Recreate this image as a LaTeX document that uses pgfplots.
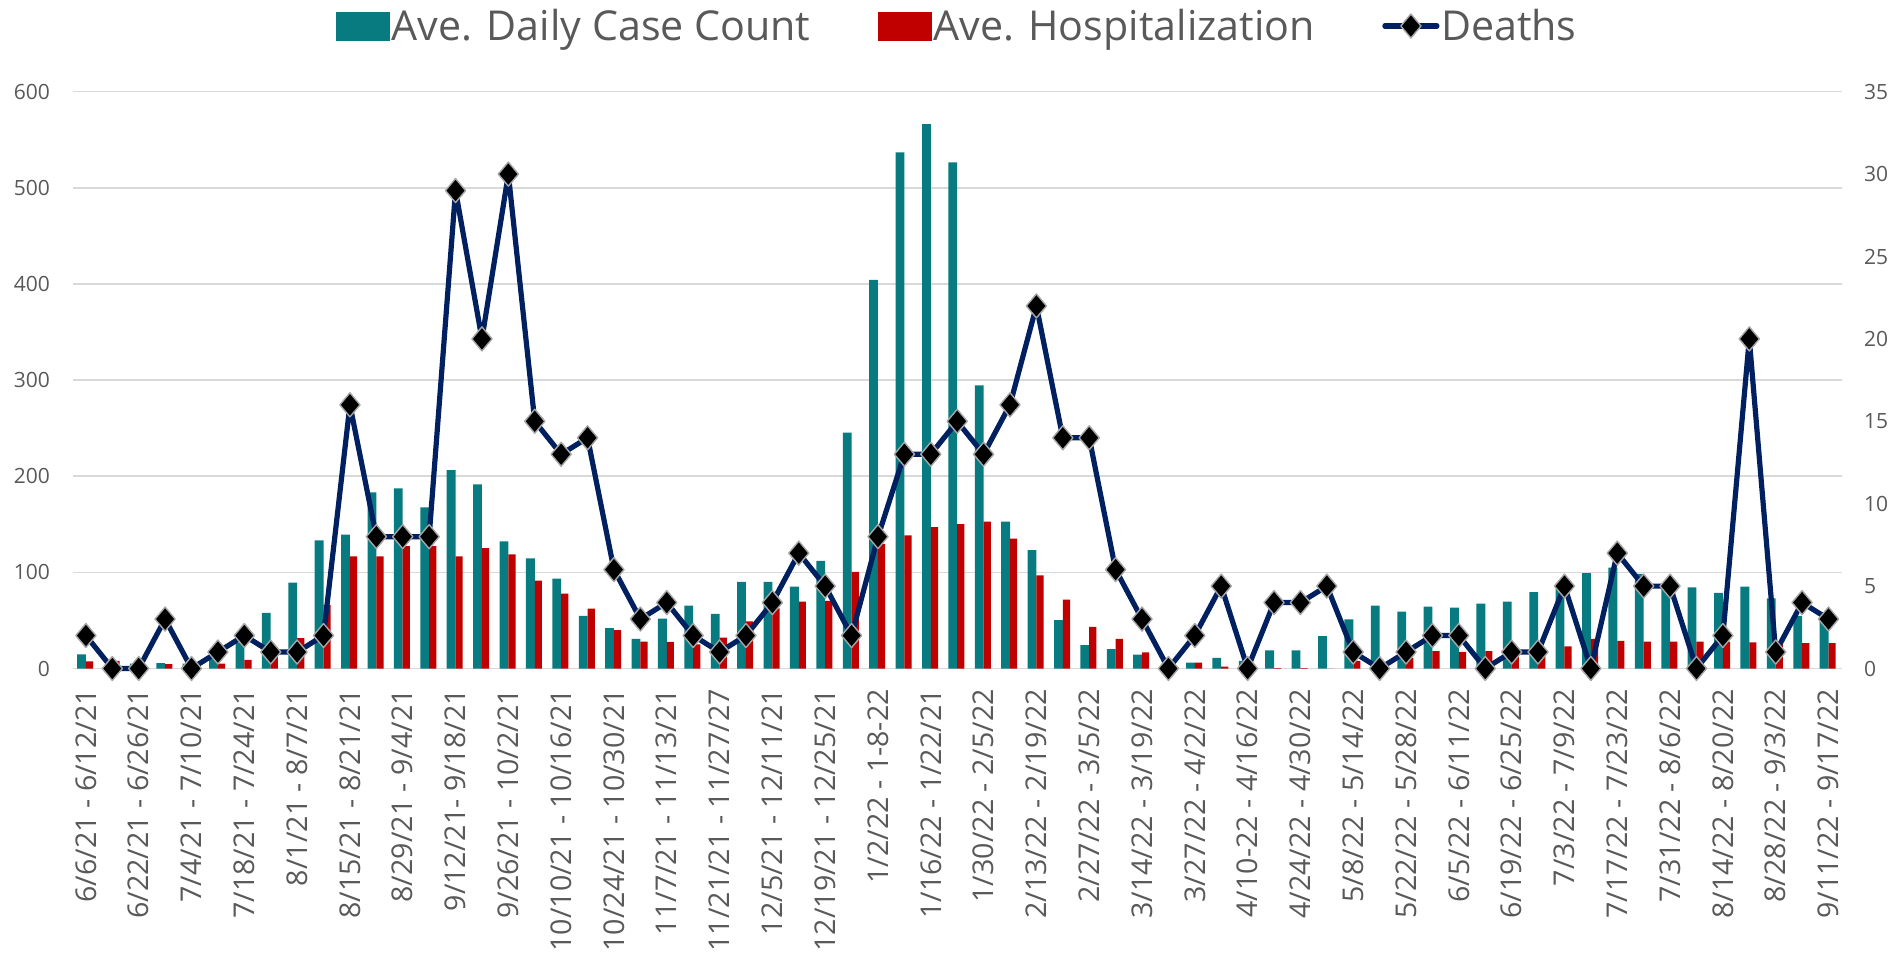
\documentclass[border=0pt]{standalone}
\usepackage{pgfplots}
\pgfplotsset{compat=1.18}
\usepackage{pgfplotstable}
\usepackage{fontspec}
\setmainfont{Open Sans}
\definecolor{caseteal}{RGB}{8,123,128}
\definecolor{hospred}{RGB}{192,0,0}
\definecolor{navyline}{RGB}{0,32,96}
\definecolor{gridgray}{RGB}{217,217,217}
\definecolor{txtgray}{RGB}{89,89,89}
\definecolor{markgray}{RGB}{166,166,166}

\pgfplotstableread{
idx case hosp deaths
0 14.6 7.4 2
1 2 8.0 0
2 5.2 1 0
3 5.5 4.5 3
4 5 2 0
5 11 5 1
6 27 9 2
7 58 22 1
8 89.4 31.7 1
9 133.4 66.3 2
10 139.2 116.6 16
11 183.3 116.6 8
12 187.4 127.3 8
13 167.6 127.3 8
14 206.3 116.6 29
15 191.5 125.2 20
16 132.2 118.6 30
17 114.5 91.4 15
18 93.5 77.8 13
19 54.8 62.2 14
20 42 40 6
21 30.9 28 3
22 51.9 27.6 4
23 65.5 25 2
24 56.8 32.1 1
25 90.2 49 2
26 90.2 62.6 4
27 85.3 69.6 7
28 112 70.4 5
29 245.5 100.5 2
30 404.4 129.7 8
31 537 138.4 13
32 566.3 147 13
33 526.4 150.3 15
34 294.5 152.8 13
35 152.8 135.1 16
36 123.1 96.8 22
37 50.2 71.7 14
38 24.3 43.2 14
39 20.2 30.9 6
40 14.4 16.9 3
41 2 3 0
42 6.2 6.2 2
43 11.1 2 5
44 8 0.5 0
45 18.9 0.5 4
46 18.9 0.5 4
47 33.8 0 5
48 51 8 1
49 65.5 6 0
50 59.3 11 1
51 64.3 18 2
52 63.4 17.3 2
53 67.5 18 0
54 69.6 16 1
55 79.5 13 1
56 83 23 5
57 99.3 30.9 0
58 105 28.8 7
59 98.4 28 5
60 89 28 5
61 84.4 28 0
62 78.7 28 2
63 85.3 27.2 20
64 72.9 27.6 1
65 54.8 26.4 4
66 52 26.4 3
}\datatable

\pgfplotsset{
  common/.style={
    width=884.5pt, height=288.4pt, scale only axis,
    at={(0pt,0pt)}, anchor=south west,
    xmin=-0.5, xmax=66.5,
    axis line style={draw=none},
    tick style={draw=none}, major tick length=0pt,
    /pgf/number format/assume math mode=true,
    tick label style={color=txtgray},
  },
  barleg/.style={legend image code/.code={\fill[##1] (0pt,-7.25pt) rectangle (27pt,7.25pt);}},
  lineleg/.style={legend image code/.code={\draw[mark repeat=2,mark phase=2,##1] plot coordinates {(0pt,0pt) (13pt,0pt) (26pt,0pt)};}},
}

\begin{document}
\begin{tikzpicture}
\useasboundingbox (-36.35pt,-145.75pt) rectangle (909.65pt,334.25pt);
\begin{axis}[common,
  ymin=0, ymax=600, ytick={0,100,...,600},
  ymajorgrids, grid style={draw=gridgray, line width=0.75pt},
  xtick={0,2,...,66},
  xticklabels={6/6/21 - 6/12/21, 6/22/21 - 6/26/21, 7/4/21 - 7/10/21, 7/18/21 - 7/24/21, 8/1/21 - 8/7/21, 8/15/21 - 8/21/21, 8/29/21 - 9/4/21, 9/12/21- 9/18/21, 9/26/21 - 10/2/21, 10/10/21 - 10/16/21, 10/24/21 - 10/30/21, 11/7/21 - 11/13/21, 11/21/21 - 11/27/27, 12/5/21 - 12/11/21, 12/19/21 - 12/25/21, 1/2/22 - 1-8-22, 1/16/22 - 1/22/21, 1/30/22 - 2/5/22, 2/13/22 - 2/19/22, 2/27/22 - 3/5/22, 3/14/22 - 3/19/22, 3/27/22 - 4/2/22, 4/10-22 - 4/16/22, 4/24/22 - 4/30/22, 5/8/22 - 5/14/22, 5/22/22 - 5/28/22, 6/5/22 - 6/11/22, 6/19/22 - 6/25/22, 7/3/22 - 7/9/22, 7/17/22 - 7/23/22, 7/31/22 - 8/6/22, 8/14/22 - 8/20/22, 8/28/22 - 9/3/22, 9/11/22 - 9/17/22},
  x tick label style={rotate=90, anchor=east, font=\fontsize{14.3}{16}\selectfont},
  xticklabel shift=6.8pt,
  y tick label style={font=\fontsize{10.5}{12}\selectfont},
  yticklabel shift=7.85pt,
  axis y line*=left,
]
\addplot[ybar, bar width=4.4pt, bar shift=-2.2pt, fill=caseteal, draw=none] table[x=idx, y=case] {\datatable};
\addplot[ybar, bar width=3.6pt, bar shift=1.8pt, fill=hospred, draw=none] table[x=idx, y=hosp] {\datatable};
\end{axis}
\begin{axis}[common,
  ymin=0, ymax=35, ytick={0,5,...,35},
  axis y line*=right, hide x axis,
  y tick label style={font=\fontsize{10.5}{12}\selectfont},
  yticklabel shift=7.65pt,
  clip=false,
  legend columns=3,
  legend style={at={(0.5,1)}, anchor=center, yshift=32.85pt, draw=none, fill=none,
    font=\fontsize{20.6}{24}\selectfont, text=txtgray,
    nodes={inner sep=0.75pt},
    /tikz/every even column/.append style={column sep=33pt}},
]
\addlegendimage{barleg, fill=caseteal, draw=none}
\addlegendentry{Ave. Daily Case Count}
\addlegendimage{barleg, fill=hospred, draw=none}
\addlegendentry{Ave. Hospitalization}
\addplot[lineleg, color=navyline, line width=2.6pt, line join=round, line cap=round,
  mark=diamond*, mark size=6pt,
  mark options={fill=black, draw=markgray, line width=0.7pt, xscale=1.12}]
  table[x=idx, y=deaths] {\datatable};
\addlegendentry{Deaths}
\end{axis}
\end{tikzpicture}
\end{document}
